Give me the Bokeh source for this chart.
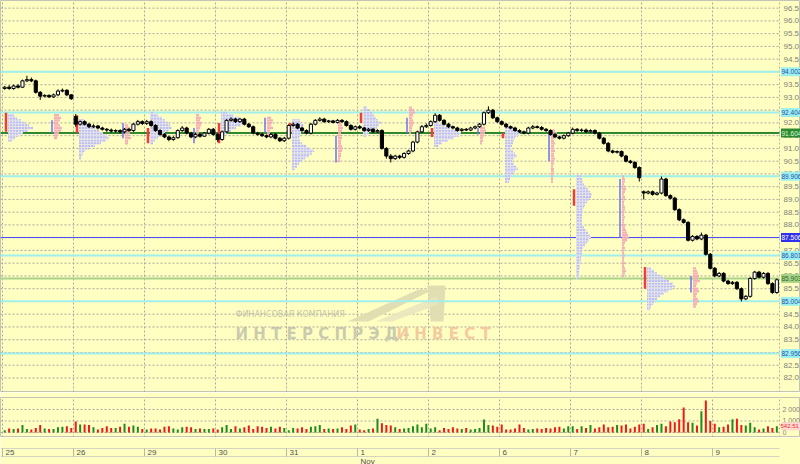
import numpy as np
from bokeh.plotting import figure
from bokeh.layouts import column
from bokeh.models import Range1d, ColumnDataSource
from bokeh.core.properties import value
from bokeh.embed import file_html
from bokeh.resources import INLINE

# ---------------- data ----------------
day_labels = ["25", "26", "29", "30", "31", "1", "2", "6", "7", "8", "9"]
month_label = "Nov"
month_day_index = 5
bars_per_day = [16, 16, 16, 16, 16, 16, 16, 16, 16, 16, 15]

opens = [
    93.35, 93.40, 93.35, 93.45, 93.40, 93.65, 93.70, 93.65, 93.20, 93.05, 93.08, 93.02, 93.10, 93.25, 93.28, 93.10,
    92.25, 91.95, 92.05, 91.95, 91.85, 91.88, 91.80, 91.75, 91.72, 91.68, 91.70, 91.65, 91.75, 91.70, 91.95, 92.05,
    91.98, 92.05, 91.90, 91.70, 91.55, 91.45, 91.35, 91.42, 91.70, 91.80, 91.60, 91.45, 91.55, 91.48, 91.60, 91.75,
    91.55, 91.35, 91.65, 92.10, 92.15, 92.05, 92.15, 91.95, 91.85, 91.60, 91.55, 91.50, 91.45, 91.55, 91.40, 91.30,
    91.40, 91.90, 91.95, 91.80, 91.70, 91.60, 91.95, 92.10, 92.15, 92.05, 92.08, 92.02, 92.10, 92.05, 91.90, 91.75,
    91.85, 91.80, 91.70, 91.75, 91.65, 91.70, 91.00, 90.70, 90.60, 90.70, 90.65, 90.80, 90.90, 91.25, 91.65, 91.85,
    91.90, 92.05, 92.30, 92.10, 91.95, 91.85, 91.80, 91.70, 91.75, 91.72, 91.80, 91.85, 91.95, 92.40, 92.50, 92.20,
    92.05, 91.95, 91.85, 91.80, 91.70, 91.65, 91.60, 91.80, 91.85, 91.82, 91.75, 91.70, 91.55, 91.45, 91.40, 91.50,
    91.60, 91.75, 91.70, 91.72, 91.65, 91.70, 91.60, 91.40, 91.20, 90.90, 90.85, 90.88, 90.70, 90.50, 90.45, 90.25,
    89.30, 89.25, 89.30, 89.20, 89.25, 89.80, 89.15, 89.05, 88.60, 88.20, 88.10, 87.40, 87.55, 87.45, 87.60, 86.85,
    86.30, 86.00, 86.10, 85.80, 85.70, 85.75, 85.50, 85.10, 85.20, 85.90, 86.15, 85.95, 86.10, 85.70, 85.35,
]
closes = [
    93.40, 93.35, 93.45, 93.40, 93.65, 93.70, 93.65, 93.20, 93.05, 93.08, 93.02, 93.10, 93.25, 93.28, 93.10, 92.95,
    91.95, 92.05, 91.95, 91.85, 91.88, 91.80, 91.75, 91.72, 91.68, 91.70, 91.65, 91.75, 91.70, 91.95, 92.05, 91.98,
    92.05, 91.90, 91.70, 91.55, 91.45, 91.35, 91.42, 91.70, 91.80, 91.60, 91.45, 91.55, 91.48, 91.60, 91.75, 91.55,
    91.35, 91.65, 92.10, 92.15, 92.05, 92.15, 91.95, 91.85, 91.60, 91.55, 91.50, 91.45, 91.55, 91.40, 91.30, 91.40,
    91.90, 91.95, 91.80, 91.70, 91.60, 91.95, 92.10, 92.15, 92.05, 92.08, 92.02, 92.10, 92.05, 91.90, 91.75, 91.85,
    91.80, 91.70, 91.75, 91.65, 91.70, 91.00, 90.70, 90.60, 90.70, 90.65, 90.80, 90.90, 91.25, 91.65, 91.85, 91.90,
    92.05, 92.30, 92.10, 91.95, 91.85, 91.80, 91.70, 91.75, 91.72, 91.80, 91.85, 91.95, 92.40, 92.50, 92.20, 92.05,
    91.95, 91.85, 91.80, 91.70, 91.65, 91.60, 91.80, 91.85, 91.82, 91.75, 91.70, 91.55, 91.45, 91.40, 91.50, 91.60,
    91.75, 91.70, 91.72, 91.65, 91.70, 91.60, 91.40, 91.20, 90.90, 90.85, 90.88, 90.70, 90.50, 90.45, 90.25, 89.85,
    89.25, 89.30, 89.20, 89.25, 89.80, 89.15, 89.05, 88.60, 88.20, 88.10, 87.40, 87.55, 87.45, 87.60, 86.85, 86.30,
    86.00, 86.10, 85.80, 85.70, 85.75, 85.50, 85.10, 85.20, 85.90, 86.15, 85.95, 86.10, 85.70, 85.35, 85.85,
]
highs = [
    93.45, 93.48, 93.50, 93.52, 93.70, 93.85, 93.78, 93.70, 93.25, 93.12, 93.12, 93.15, 93.32, 93.35, 93.32, 93.12,
    92.35, 92.10, 92.10, 92.00, 91.95, 91.92, 91.85, 91.80, 91.78, 91.75, 91.75, 91.80, 91.80, 92.00, 92.12, 92.10,
    92.12, 92.10, 91.95, 91.75, 91.60, 91.50, 91.48, 91.75, 91.88, 91.85, 91.65, 91.60, 91.60, 91.65, 91.80, 91.80,
    91.60, 91.70, 92.15, 92.22, 92.20, 92.20, 92.20, 92.00, 91.90, 91.65, 91.60, 91.55, 91.60, 91.60, 91.45, 91.45,
    91.95, 92.02, 92.00, 91.85, 91.75, 92.00, 92.15, 92.22, 92.20, 92.12, 92.12, 92.15, 92.15, 92.10, 91.95, 91.90,
    91.92, 91.85, 91.80, 91.80, 91.75, 91.75, 91.05, 90.78, 90.75, 90.75, 90.85, 90.95, 91.30, 91.70, 91.92, 91.98,
    92.10, 92.38, 92.35, 92.15, 92.00, 91.90, 91.85, 91.80, 91.80, 91.85, 91.90, 92.00, 92.45, 92.65, 92.55, 92.25,
    92.10, 92.00, 91.90, 91.85, 91.75, 91.70, 91.85, 91.92, 91.90, 91.88, 91.80, 91.75, 91.60, 91.50, 91.55, 91.65,
    91.82, 91.80, 91.78, 91.78, 91.75, 91.75, 91.65, 91.45, 91.25, 90.95, 90.92, 90.92, 90.75, 90.55, 90.50, 90.30,
    89.35, 89.35, 89.35, 89.30, 89.90, 89.85, 89.20, 89.10, 88.65, 88.25, 88.15, 87.60, 87.60, 87.70, 87.65, 86.90,
    86.35, 86.15, 86.15, 85.85, 85.80, 85.80, 85.55, 85.25, 85.95, 86.20, 86.20, 86.15, 86.15, 85.75, 85.90,
]
lows = [
    93.30, 93.30, 93.30, 93.35, 93.38, 93.60, 93.60, 93.15, 92.90, 93.00, 92.98, 92.98, 93.05, 93.20, 93.05, 92.90,
    91.85, 91.90, 91.90, 91.80, 91.80, 91.75, 91.70, 91.65, 91.62, 91.62, 91.58, 91.60, 91.65, 91.65, 91.90, 91.92,
    91.92, 91.85, 91.65, 91.50, 91.40, 91.28, 91.30, 91.38, 91.65, 91.55, 91.40, 91.40, 91.42, 91.45, 91.55, 91.50,
    91.25, 91.30, 91.60, 92.05, 92.00, 92.00, 91.90, 91.80, 91.55, 91.50, 91.45, 91.40, 91.40, 91.35, 91.25, 91.25,
    91.35, 91.85, 91.75, 91.65, 91.55, 91.55, 91.90, 92.05, 92.00, 92.00, 91.98, 91.98, 92.00, 91.85, 91.70, 91.70,
    91.75, 91.65, 91.65, 91.60, 91.60, 90.95, 90.60, 90.45, 90.55, 90.58, 90.60, 90.75, 90.85, 91.20, 91.60, 91.80,
    91.85, 92.00, 92.05, 91.90, 91.80, 91.75, 91.65, 91.65, 91.68, 91.68, 91.75, 91.80, 91.90, 92.35, 92.15, 92.00,
    91.90, 91.80, 91.75, 91.65, 91.60, 91.55, 91.55, 91.75, 91.78, 91.70, 91.65, 91.50, 91.40, 91.35, 91.35, 91.45,
    91.55, 91.65, 91.65, 91.60, 91.60, 91.55, 91.35, 91.15, 90.85, 90.80, 90.80, 90.65, 90.45, 90.40, 90.20, 89.70,
    89.00, 89.20, 89.15, 89.15, 89.20, 89.10, 89.00, 88.55, 88.15, 88.05, 87.35, 87.35, 87.40, 87.40, 86.80, 86.25,
    85.95, 85.95, 85.75, 85.65, 85.65, 85.45, 85.00, 85.05, 85.15, 85.85, 85.90, 85.90, 85.65, 85.30, 85.30,
]
volumes = [
    200, 350, 300, 350, 650, 300, 250, 400, 650, 350, 300, 300, 450, 500, 550, 400,
    950, 700, 700, 650, 450, 250, 400, 550, 400, 400, 500, 750, 500, 600, 500, 300,
    250, 350, 350, 250, 500, 550, 350, 250, 450, 500, 450, 300, 350, 300, 300, 350,
    250, 450, 650, 300, 550, 350, 450, 600, 300, 550, 500, 400, 500, 350, 500, 400,
    200, 400, 350, 450, 300, 500, 550, 650, 300, 350, 300, 350, 450, 300, 600, 700,
    250, 200, 300, 350, 1200, 800, 650, 600, 450, 300, 350, 400, 550, 700, 450, 750,
    350, 450, 200, 400, 300, 450, 350, 300, 400, 250, 300, 400, 1130, 650, 600, 500,
    700, 250, 250, 350, 700, 400, 250, 300, 350, 300, 400, 350, 450, 500, 350, 550,
    550, 300, 550, 400, 650, 350, 450, 700, 450, 500, 650, 600, 700, 350, 500, 700,
    750, 300, 450, 650, 750, 550, 950, 900, 1150, 2170, 900, 850, 600, 1850, 2780, 1000,
    750, 450, 500, 700, 1150, 1200, 650, 600, 850, 450, 250, 350, 550, 400, 542.51,
]
last_volume_label = "542.51"

price_ticks = [82.0, 82.5, 83.0, 83.5, 84.0, 84.5, 85.0, 85.5, 86.0, 86.5, 87.0, 87.5, 88.0,
               88.5, 89.0, 89.5, 90.0, 90.5, 91.0, 91.5, 92.0, 92.5, 93.0, 93.5, 94.0, 94.5,
               95.0, 95.5, 96.0, 96.5]
volume_ticks = [0, 1000, 2000]
volume_tick_labels = ["0", "1 000", "2 000"]

level_prices = [94.002, 92.404, 91.604, 89.906, 87.506, 86.801, 85.903, 85.004, 82.956]
level_labels = ["94.002", "92.404", "91.604", "89.906", "87.506", "86.801", "85.903", "85.004", "82.956"]
level_kind = ["c", "c", "g", "c", "b", "c", "lg", "c", "c"]

# session volume profiles (top price, widths per 0.1 step going down)
prof_top = [92.3, 92.1, 92.4, 92.4, 92.1, 92.6, 92.0, 91.8, 89.9, 86.3]
prof_25 = [6, 9, 13, 17, 21, 25, 20, 15, 11, 7, 4]
prof_26 = [5, 8, 12, 16, 20, 24, 28, 30, 27, 22, 16, 10, 6, 4, 3, 2]
prof_29 = [4, 8, 12, 15, 18, 20, 22, 19, 15, 11, 8, 5, 3]
prof_30 = [6, 12, 18, 24, 25, 20, 15, 10, 6, 3]
prof_31 = [8, 10, 12, 11, 10, 9, 8, 7, 8, 10, 14, 18, 22, 20, 17, 13, 10, 7, 5, 3]
prof_01 = [4, 6, 9, 11, 13, 15, 18, 16, 14, 10, 6, 3]
prof_02 = [5, 10, 16, 22, 27, 25, 20, 14, 8, 4]
prof_06 = [8, 12, 15, 13, 10, 9, 8, 7, 6, 8, 10, 12, 9, 7, 9, 11, 13, 10, 8, 6, 5, 4]
prof_07 = [5, 6, 7, 8, 10, 12, 14, 16, 15, 13, 11, 9, 8, 7, 7, 6, 6, 6, 6, 7, 8, 10, 12, 14,
           15, 13, 11, 9, 7, 6, 6, 5, 5, 5, 4, 4, 4, 3, 3, 3, 2]
prof_08 = [4, 7, 10, 14, 18, 22, 26, 28, 25, 21, 17, 13, 10, 8, 6, 4, 3]

sec_top = [92.3, 91.9, 92.3, 92.2, 92.0, 92.6, 91.8, 91.7, 89.9, 86.3]
sec_25 = [5, 7, 6, 4, 6, 8, 7, 5, 4, 3]
sec_26 = [3, 5, 6, 5, 4, 6, 3, 3]
sec_29 = [3, 5, 4, 6, 5, 4, 3, 3]
sec_30 = [4, 6, 5, 4, 6, 3, 3, 2]
sec_31 = [3, 4, 5, 4, 3, 3, 4, 3, 3, 4, 5, 4, 3, 3, 2, 2]
sec_01 = [3, 5, 6, 4, 3, 4, 5, 4, 3, 3, 2]
sec_02 = [5, 6, 5, 4, 3, 3, 2]
sec_06 = [4, 6, 5, 3, 3, 4, 3, 3, 4, 3, 3, 4, 3, 3, 2, 3, 3, 2, 2, 2, 2]
sec_07 = [2, 3, 3, 2, 3, 4, 3, 2, 3, 3, 2, 2, 3, 3, 2, 2, 3, 2, 2, 3, 3, 4, 5, 6, 7, 5, 3, 2,
          3, 2, 2, 3, 2, 2, 3, 2, 3, 4, 3, 2]
sec_08 = [3, 4, 5, 6, 5, 7, 4, 3, 5, 6, 4, 3, 5, 6, 4, 3]

red_hi = [92.4, 92.3, 91.8, 92.0, 92.0, 92.4, 91.8, 91.6, 89.4, 86.35]
red_lo = [91.65, 91.6, 91.2, 91.2, 91.6, 92.0, 91.45, 91.4, 88.75, 85.5]
blue_hi = [92.1, 92.0, 91.8, 92.2, 91.5, 92.2, 91.8, 91.6, 89.8, 86.0]
blue_lo = [91.6, 91.4, 91.2, 91.6, 90.45, 91.6, 91.55, 90.5, 87.5, 85.35]

# ---------------- geometry / style ----------------
BG = "#ffffc2"
PX_PER_DAY = 71.0          # pixels per trading day
PX_PER_PRICE = 25.5        # pixels per price unit
X_START = -2.0 / PX_PER_DAY
X_END = 798.0 / PX_PER_DAY
AXIS_X = 777.0 / PX_PER_DAY
FONT = value("Liberation Sans")
W = 800

def px_to_x(px):
    return (px - 2.0) / PX_PER_DAY

def py_to_y(py):
    return 89.0 - (py - 199.0) / PX_PER_PRICE

xs = []
for d, n in enumerate(bars_per_day):
    for j in range(n):
        xs.append(d + (j + 0.5) / 16.0)
xs = np.array(xs)
o = np.array(opens); c = np.array(closes); h = np.array(highs); l = np.array(lows)
up = c >= o

x_range = Range1d(X_START, X_END)

def base_fig(height, y_range):
    f = figure(width=W, height=height, x_range=x_range, y_range=y_range,
               output_backend="svg", toolbar_location=None,
               x_axis_location=None, y_axis_location=None,
               min_border_left=0, min_border_right=0, min_border_top=0, min_border_bottom=0)
    f.background_fill_color = BG
    f.border_fill_color = BG
    f.outline_line_color = "#c4c4b4"
    f.grid.visible = False
    return f

# ---------------- main price pane ----------------
YLO, YHI = 81.43, 96.80
p = base_fig(392, Range1d(YLO, YHI))
day_idx = list(range(len(day_labels)))

# grid
p.segment(x0=[X_START] * len(price_ticks), x1=[AXIS_X] * len(price_ticks), y0=price_ticks, y1=price_ticks,
          line_color="#a8a8a0", line_dash="2 2", line_width=1)
p.segment(x0=day_idx, x1=day_idx, y0=[YLO] * len(day_idx), y1=[YHI] * len(day_idx),
          line_color="#a8a8a0", line_dash="2 2", line_width=1)
p.segment(x0=[AXIS_X], x1=[AXIS_X], y0=[YLO], y1=[YHI], line_color="#b4b4a8", line_dash="2 2")

# watermark (logo + company name)
logo_band = [(347, 321), (418, 289), (433, 289), (368, 321)]
logo_bar = [(427, 285), (445, 285), (443, 321), (430, 321)]
logo_light = [(375, 321), (436, 296), (438, 304), (392, 321)]
for shape, col in [(logo_band, "#dedcb0"), (logo_bar, "#dedcb0"), (logo_light, "#e9e7bd")]:
    p.patch(x=[px_to_x(a) for a, _ in shape], y=[py_to_y(b) for _, b in shape],
            fill_color=col, line_color=None, fill_alpha=0.9)
p.text(x=[px_to_x(235)], y=[py_to_y(314)], text=["ФИНАНСОВАЯ КОМПАНИЯ"], text_font=value("DejaVu Sans"),
       text_font_size="8px", text_color="#b4b4a4", text_baseline="middle", text_alpha=0.8)
p.text(x=[px_to_x(235)], y=[py_to_y(334)], text=["И Н Т Е Р С П Р Э Д -"], text_font=value("DejaVu Sans"),
       text_font_size="15px", text_font_style="bold", text_color="#bcbcaa", text_baseline="middle", text_alpha=0.8)
p.text(x=[px_to_x(396)], y=[py_to_y(334)], text=["И Н В Е С Т"], text_font=value("DejaVu Sans"),
       text_font_size="15px", text_font_style="bold", text_color="#f2c49a", text_baseline="middle", text_alpha=0.9)

# level lines
kind_color = {"c": "#9ff0ec", "g": "#2f8a2f", "b": "#4a4aff", "lg": "#a9d488"}
kind_width = {"c": 2, "g": 2, "b": 1, "lg": 2}
for pr, k in zip(level_prices, level_kind):
    p.segment(x0=[X_START], x1=[AXIS_X], y0=[pr], y1=[pr], line_color=kind_color[k], line_width=kind_width[k])

# volume profiles
profiles = [prof_25, prof_26, prof_29, prof_30, prof_31, prof_01, prof_02, prof_06, prof_07, prof_08]
secondary = [sec_25, sec_26, sec_29, sec_30, sec_31, sec_01, sec_02, sec_06, sec_07, sec_08]
py, pl, pr_ = [], [], []
sy, sl, sr = [], [], []
for d, (top, widths) in enumerate(zip(prof_top, profiles)):
    x0 = d + 5.5 / PX_PER_DAY
    for k, wv in enumerate(widths):
        py.append(top - 0.1 * k); pl.append(x0); pr_.append(x0 + wv / PX_PER_DAY)
for d, (top, widths) in enumerate(zip(sec_top, secondary)):
    x0 = d + 51.5 / PX_PER_DAY
    for k, wv in enumerate(widths):
        sy.append(top - 0.1 * k); sl.append(x0); sr.append(x0 + wv / PX_PER_DAY)
p.hbar(y=py, left=pl, right=pr_, height=0.09, fill_color="#dcdcf4", line_color=None,
       hatch_pattern=".", hatch_color="#8e8ee8", hatch_scale=3, hatch_weight=1)
p.hbar(y=sy, left=sl, right=sr, height=0.09, fill_color="#f4a8b6", line_color=None, fill_alpha=0.9)
p.segment(x0=[d + 3.5 / PX_PER_DAY for d in range(10)], x1=[d + 3.5 / PX_PER_DAY for d in range(10)],
          y0=red_lo, y1=red_hi, line_color="#f03c3c", line_width=2.5)
p.segment(x0=[d + 49.5 / PX_PER_DAY for d in range(10)], x1=[d + 49.5 / PX_PER_DAY for d in range(10)],
          y0=blue_lo, y1=blue_hi, line_color="#7070f0", line_width=1.5)

# candles
src = ColumnDataSource(dict(x=xs, o=o, c=c, h=h, l=l,
                            top=np.maximum(o, c), bot=np.minimum(o, c),
                            fill=np.where(up, "#ffffff", "#000000")))
p.segment(x0="x", x1="x", y0="l", y1="h", source=src, line_color="#000000", line_width=1)
p.vbar(x="x", top="top", bottom="bot", width=0.7 / 16, source=src,
       fill_color="fill", line_color="#000000", line_width=1)

# right axis labels
p.text(x=[AXIS_X] * len(price_ticks), y=price_ticks, text=[f"{t:.1f}" for t in price_ticks],
       x_offset=4, text_font=FONT, text_font_size="8px", text_color="#808078", text_baseline="middle")

box_fill = {"c": "#9ff0ec", "g": "#2f8a2f", "b": "#3030ee", "lg": "#a9d488"}
box_text = {"c": "#2050b0", "g": "#d8ffd8", "b": "#ffffff", "lg": "#2f6a2f"}
lab_x = AXIS_X + 12.5 / PX_PER_DAY
p.rect(x=[lab_x] * len(level_prices), y=level_prices, width=22, height=9,
       width_units="screen", height_units="screen",
       fill_color=[box_fill[k] for k in level_kind], line_color=None)
p.text(x=[AXIS_X] * len(level_prices), y=level_prices, text=level_labels, x_offset=2,
       text_font=FONT, text_font_size="6.5px", text_baseline="middle",
       text_color=[box_text[k] for k in level_kind])

# ---------------- volume pane ----------------
VLO, VHI = -435, 3040
v = base_fig(45, Range1d(VLO, VHI))
v.min_border_top = 5
v.segment(x0=[X_START] * 3, x1=[AXIS_X] * 3, y0=volume_ticks, y1=volume_ticks,
          line_color="#a8a8a0", line_dash="2 2")
v.segment(x0=day_idx, x1=day_idx, y0=[VLO] * len(day_idx), y1=[VHI] * len(day_idx),
          line_color="#a8a8a0", line_dash="2 2")
v.segment(x0=[AXIS_X], x1=[AXIS_X], y0=[VLO], y1=[VHI], line_color="#b4b4a8", line_dash="2 2")
v.vbar(x=xs, top=volumes, bottom=0, width=0.45 / 16,
       fill_color=np.where(up, "#1f8a1f", "#f01818").tolist(), line_color=None)
v.text(x=[AXIS_X] * 3, y=volume_ticks, text=volume_tick_labels, x_offset=3,
       text_font=FONT, text_font_size="7px", text_color="#808078", text_baseline="middle")
v.rect(x=[lab_x], y=[volumes[-1]], width=22, height=8, width_units="screen", height_units="screen",
       fill_color="#ffd8d0", line_color=None)
v.text(x=[AXIS_X], y=[volumes[-1]], text=[last_volume_label], x_offset=1,
       text_font=FONT, text_font_size="6px", text_color="#f03030", text_baseline="middle")

# ---------------- date strip ----------------
dstrip = base_fig(27, Range1d(464, 437))
dstrip.outline_line_color = None
dstrip.segment(x0=[X_START, X_START], x1=[AXIS_X, AXIS_X], y0=[448, 456], y1=[448, 456],
               line_color="#d4d4c4", line_width=1)
dstrip.segment(x0=day_idx, x1=day_idx, y0=[448] * len(day_idx), y1=[456] * len(day_idx),
               line_color="#b8b8a8", line_width=1)
dstrip.text(x=day_idx, y=[452.3] * len(day_idx), text=day_labels, x_offset=3,
            text_font=FONT, text_font_size="8px", text_color="#505050", text_baseline="middle")
dstrip.text(x=[month_day_index], y=[460.5], text=[month_label], x_offset=3,
            text_font=FONT, text_font_size="8px", text_color="#505050", text_baseline="middle")

layout = column(p, v, dstrip, spacing=0)
open("out.html", "w").write(file_html(layout, INLINE))
